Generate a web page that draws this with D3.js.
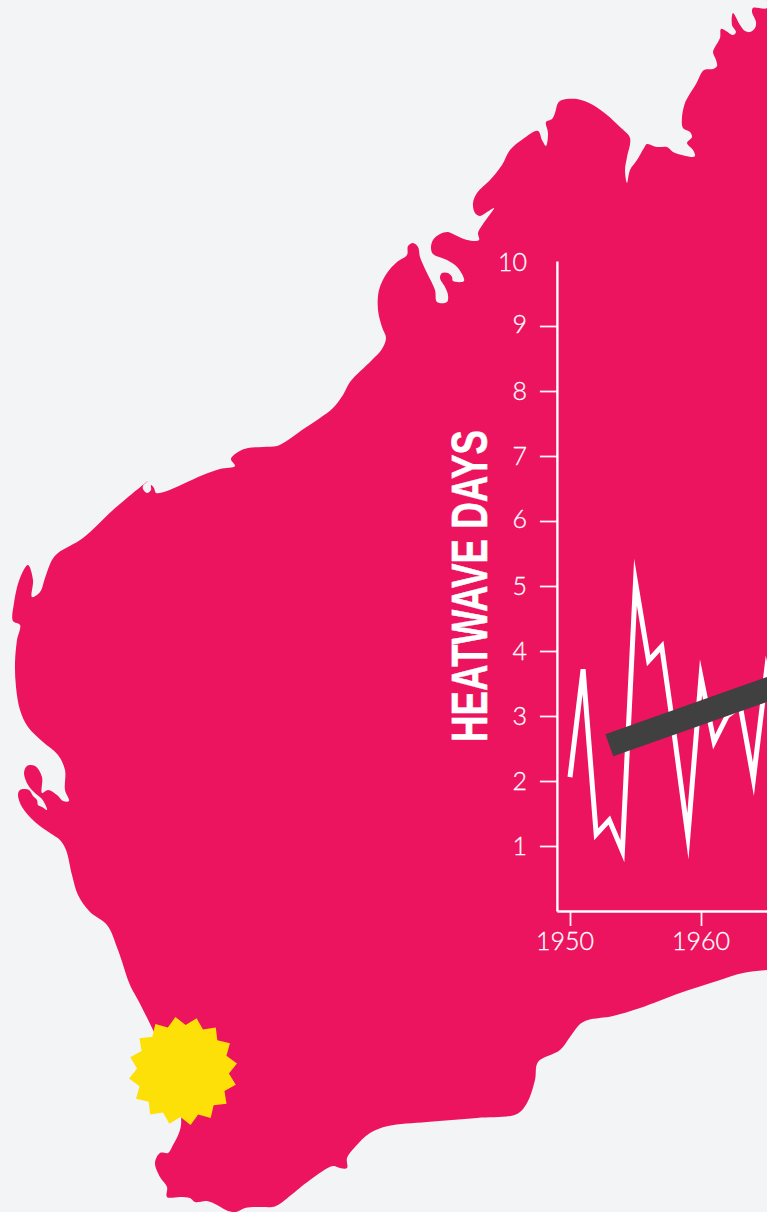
<!DOCTYPE html>
<html><head><meta charset="utf-8">
<script src="https://cdn.jsdelivr.net/npm/d3@7"></script>
<style>
html,body{margin:0;padding:0;background:#f2f4f6;overflow:hidden}
svg{display:block}
</style></head><body>
<svg id="c" width="767" height="1212"></svg>
<script>
const years=[1950,1951,1952,1953,1954,1955,1956,1957,1958,1959,1960,1961,1962,1963,1964,1965,1966];
const heatwaveDays=[2.06,3.72,1.18,1.4,0.92,5.06,3.85,4.07,2.65,1.15,3.6,2.6,3.0,3.15,2.03,3.7,2.8];
const trendYears=[1953,1975];
const trendDays=[2.55,4.12];
const yTicks=[1,2,3,4,5,6,7,8,9,10];
const xTicks=[1950,1960];
const axisTitle="HEATWAVE DAYS";
// coastline of Western Australia traced as picture outline
const coastline=[[767,-6],[767,8],[753,8],[752,12],[756,22],[755,28],[750,32],[745,31],[740,25],[733,13],[732,25],[736,32],[733,35],[726,31],[721,29],[720,38],[715,47],[713,52],[716,60],[717,66],[713,69],[704,70],[696,84],[688,97],[685,103],[682,117],[683,128],[690,132],[692,137],[687,143],[693,150],[695,156],[692,157],[682,155],[673,152],[667,147],[657,147],[647,144],[644,148],[637,160],[630,170],[627,183],[625,170],[627,157],[630,138],[620,127],[607,115],[593,105],[577,99],[562,100],[558,103],[555,113],[552,119],[546,122],[548,133],[546,146],[542,140],[538,131],[523,139],[510,150],[502,165],[490,180],[477,193],[473,203],[475,213],[480,216],[487,212],[494,208],[488,217],[481,227],[478,233],[479,240],[467,240],[455,235],[448,232],[440,234],[433,240],[431,248],[433,254],[447,260],[458,268],[464,281],[453,281],[452,277],[448,273],[442,273],[440,278],[445,287],[448,295],[447,302],[437,302],[435,290],[427,273],[420,257],[418,247],[413,243],[408,246],[407,255],[397,262],[387,273],[379,290],[378,310],[382,327],[386,338],[382,349],[372,360],[350,382],[343,395],[333,408],[320,418],[302,430],[285,442],[277,446],[263,447],[248,448],[238,452],[231,459],[235,466],[220,469],[203,475],[183,484],[167,491],[156,493],[154,488],[151,485],[151,490],[147,493],[143,489],[143,486],[148,481],[113,510],[83,538],[58,553],[52,560],[45,578],[40,592],[32,597],[33,580],[28,565],[20,578],[14,603],[13,621],[20,625],[17,640],[15,663],[16,687],[20,710],[28,727],[43,742],[58,755],[65,770],[65,790],[69,801],[63,801],[57,795],[48,790],[42,793],[42,777],[35,766],[27,766],[24,773],[28,785],[36,794],[41,798],[45,804],[47,810],[42,807],[38,805],[37,800],[33,796],[29,790],[20,790],[18,795],[22,807],[35,822],[50,833],[60,840],[66,850],[72,875],[78,895],[90,912],[107,925],[118,950],[130,985],[138,1000],[153,1030],[170,1070],[181,1117],[180,1130],[172,1147],[168,1153],[160,1153],[155,1163],[160,1177],[167,1187],[167,1197],[180,1197],[190,1198],[195,1202],[207,1201],[217,1205],[228,1211],[236,1212],[245,1208],[260,1207],[272,1207],[278,1205],[310,1180],[333,1166],[340,1168],[347,1168],[347,1158],[355,1147],[370,1133],[388,1126],[427,1122],[477,1118],[517,1114],[527,1103],[535,1080],[538,1062],[560,1050],[570,1037],[580,1024],[588,1020],[613,1016],[640,1008],[680,993],[717,981],[743,973],[767,970],[780,968],[780,-6]];
const starOuter=54.5,starInner=46,starPoints=16;

const svg=d3.select("#c");
svg.append("rect").attr("width",767).attr("height",1212).attr("fill","#f2f4f6");
svg.append("path").datum(coastline)
  .attr("d",d3.line().curve(d3.curveCatmullRomClosed.alpha(0.5)))
  .attr("fill","#ec135f");

const x=d3.scaleLinear().domain([1949,1966]).range([556.9,779.6]);
const y=d3.scaleLinear().domain([0,10]).range([911,261]);
const FONT="Lato";

const gy=svg.append("g").attr("transform",`translate(${x(1949)},0)`)
  .call(d3.axisLeft(y).tickValues(yTicks).tickSize(17).tickSizeOuter(0).tickPadding(13).tickFormat(d3.format("d")));
const gx=svg.append("g").attr("transform",`translate(0,${y(0)})`)
  .call(d3.axisBottom(x).tickValues(xTicks).tickSize(15).tickSizeOuter(0).tickPadding(6).tickFormat(d3.format("d")));
[gy,gx].forEach(g=>{
  g.attr("font-family",null);
  g.select(".domain").attr("stroke","#fff").attr("stroke-width",2.4).attr("fill","none");
  g.selectAll(".tick line").attr("stroke","#fff").attr("stroke-width",1.8).attr("opacity",.95);
  g.selectAll("text").attr("fill","#fff").attr("stroke","#fff").attr("stroke-width",.3)
    .attr("font-family",FONT).attr("font-weight",300).attr("font-size",25);
});
gy.selectAll(".tick").filter(d=>d===10).select("line").remove();
gy.selectAll(".tick text").attr("dy",d=>(d===9||d===6)?"0.24em":d===10?"0.36em":"0.34em");
gx.selectAll(".tick text").attr("dx",d=>d===1950?-5.5:-0.5);

svg.append("path").datum(years.map((d,i)=>[x(d),y(heatwaveDays[i])]))
  .attr("d",d3.line()).attr("fill","none").attr("stroke","#fff").attr("stroke-width",5)
  .attr("stroke-linejoin","miter").attr("stroke-miterlimit",10);

svg.append("path").datum(trendYears.map((d,i)=>[x(d),y(trendDays[i])]))
  .attr("d",d3.line()).attr("fill","none").attr("stroke","#404040").attr("stroke-width",23.6);

svg.append("text").attr("transform","translate(487,742) rotate(-90)")
  .attr("font-family","'Liberation Sans Narrow','Liberation Sans'").attr("font-weight",700)
  .attr("font-size",50).attr("fill","#fff").attr("stroke","#fff").attr("stroke-width",.5)
  .attr("textLength",312).attr("lengthAdjust","spacingAndGlyphs").text(axisTitle);

const rad=d3.range(starPoints*2).map(i=>[ (i/(starPoints*2))*2*Math.PI-8*Math.PI/180, i%2?starInner:starOuter ]);
svg.append("path").datum(rad)
  .attr("d",d3.lineRadial().curve(d3.curveLinearClosed))
  .attr("transform","translate(183,1071)").attr("fill","#fde008");
</script>
</body></html>
